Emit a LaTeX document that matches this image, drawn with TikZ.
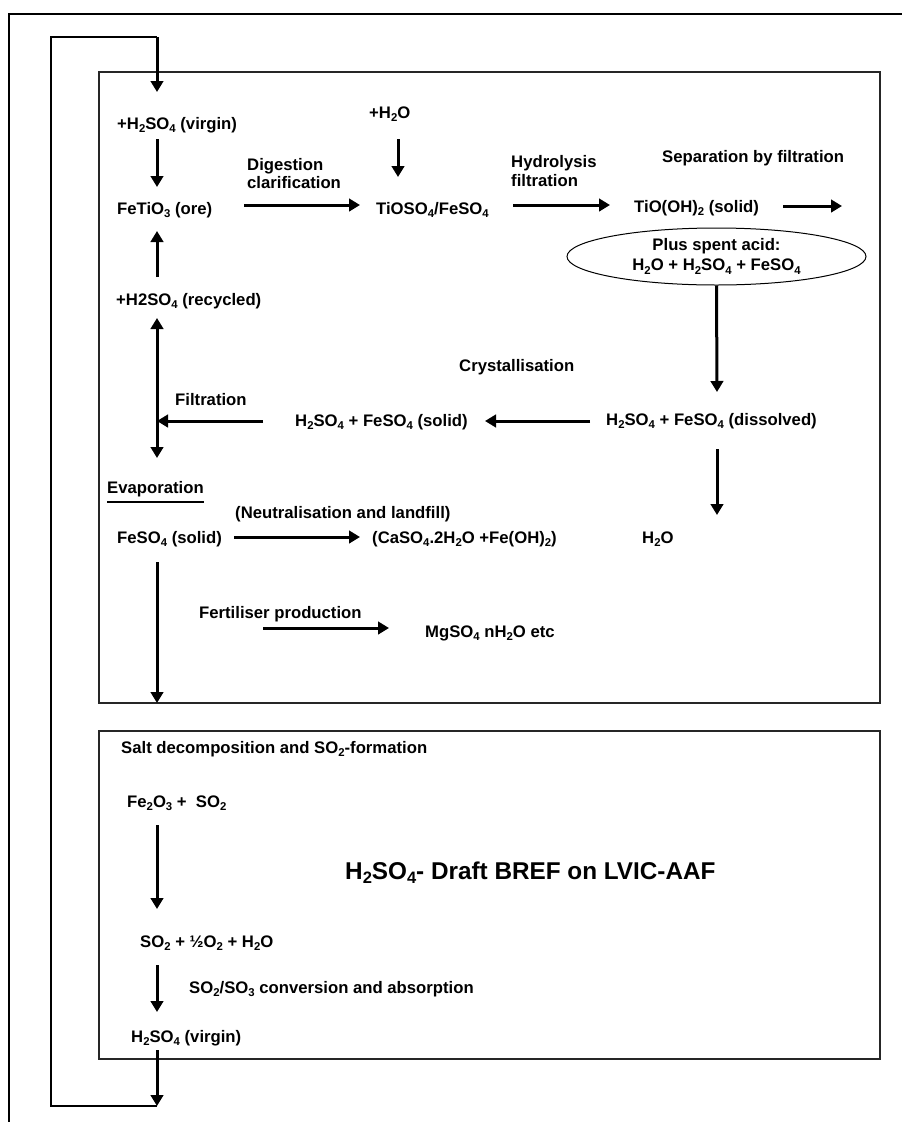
\documentclass[tikz,border=0pt]{standalone}
\usepackage{fontspec}
\usepackage{graphicx}
\setmainfont{Liberation Sans}
\usetikzlibrary{arrows.meta,shapes.geometric}
\newcommand\sbs[1]{\raisebox{-0.2em}{\scalebox{0.68}{#1}}}
\tikzset{
  txt/.style={font=\fontsize{16.7}{19}\selectfont\bfseries, anchor=base west, inner sep=0pt},
  flow/.style={line width=3pt, -{Triangle[length=11pt,width=12.5pt]}},
  dflow/.style={line width=3pt, {Triangle[length=11pt,width=12.5pt]}-{Triangle[length=11pt,width=12.5pt]}},
  loopline/.style={line width=2.8pt},
  boxline/.style={line width=1.2pt, draw=black!85},
}
\begin{document}
\begin{tikzpicture}[x=1pt,y=-1pt]
\useasboundingbox[fill=white] (0,0) rectangle (902,1122);
% outer frame
\draw[line width=2.2pt] (9,1122) -- (9,14) -- (902,14);
% boxes
\draw[boxline] (99,72) rectangle (880,703);
\draw[boxline] (99,731) rectangle (880,1059);
% texts
\node[txt] (vir1) at (117,129) {+H\sbs{2}SO\sbs{4} (virgin)};
\node[txt] (ore) at (117,214) {FeTiO\sbs{3} (ore)};
\node[txt] (rec) at (116,305) {+H2SO\sbs{4} (recycled)};
\node[txt] (h2o) at (369,118) {+H\sbs{2}O};
\node[txt] (dig1) at (247,170) {Digestion};
\node[txt] (dig2) at (247,188) {clarification};
\node[txt] (tio) at (376,214) {TiOSO\sbs{4}/FeSO\sbs{4}};
\node[txt] (hyd1) at (511,167) {Hydrolysis};
\node[txt] (hyd2) at (511,186) {filtration};
\node[txt] (sep) at (662,162) {Separation by filtration};
\node[txt] (tioh) at (634,212) {TiO(OH)\sbs{2} (solid)};
\node[draw, line width=1pt, ellipse, minimum width=299pt, minimum height=57pt, inner sep=0pt,
      font=\fontsize{16.7}{20}\selectfont\bfseries, align=center] (spent) at (716.5,256.5)
      {Plus spent acid:\\H\sbs{2}O + H\sbs{2}SO\sbs{4} + FeSO\sbs{4}};
\node[txt] (cry) at (459,371) {Crystallisation};
\node[txt] (dis) at (606,425) {H\sbs{2}SO\sbs{4} + FeSO\sbs{4} (dissolved)};
\node[txt] (sol) at (295,426) {H\sbs{2}SO\sbs{4} + FeSO\sbs{4} (solid)};
\node[txt] (fil) at (175,405) {Filtration};
\node[txt] (evap) at (107,493) {Evaporation};
\draw[line width=1.8pt] ([yshift=-9pt]evap.base west) -- ([yshift=-9pt]evap.base east);
\node[txt] (neu) at (235,518) {(Neutralisation and landfill)};
\node[txt] (feso) at (117,543) {FeSO\sbs{4} (solid)};
\node[txt] (caso) at (372,543) {(CaSO\sbs{4}.2H\sbs{2}O +Fe(OH)\sbs{2})};
\node[txt] (wat) at (642,543) {H\sbs{2}O};
\node[txt] (fert) at (199,618) {Fertiliser production};
\node[txt] (mg) at (425,637) {MgSO\sbs{4} nH\sbs{2}O etc};
\node[txt] (salt) at (121,753) {Salt decomposition and SO\sbs{2}-formation};
\node[txt] (fe2o3) at (127,807) {Fe\sbs{2}O\sbs{3} +\ \ SO\sbs{2}};
\node[txt, font=\fontsize{24.3}{28}\selectfont\bfseries] (title) at (345,879) {H\sbs{2}SO\sbs{4}- Draft BREF on LVIC-AAF};
\node[txt] (so2) at (140,947) {SO\sbs{2} + ½O\sbs{2} + H\sbs{2}O};
\node[txt] (conv) at (189,993) {SO\sbs{2}/SO\sbs{3} conversion and absorption};
\node[txt] (vir2) at (131,1042) {H\sbs{2}SO\sbs{4} (virgin)};
% arrow end points
\coordinate (a1s) at (157,139); \coordinate (a1e) at (157,187);
\coordinate (a2s) at (157,277); \coordinate (a2e) at (157,231);
\coordinate (a3s) at (398,139); \coordinate (a3e) at (398,177);
\coordinate (a4s) at (244,205); \coordinate (a4e) at (360,205);
\coordinate (a5s) at (513,205); \coordinate (a5e) at (610,205);
\coordinate (a6s) at (783,206); \coordinate (a6e) at (842,206);
\coordinate (a7e) at (717,392);
\coordinate (a8s) at (590,421); \coordinate (a8e) at (485,421);
\coordinate (a9s) at (263,421); \coordinate (a9e) at (157,421);
\coordinate (a10s) at (157,318); \coordinate (a10e) at (157,458);
\coordinate (a11s) at (234,537); \coordinate (a11e) at (360,537);
\coordinate (a12s) at (717,449); \coordinate (a12e) at (717,515);
\coordinate (a13s) at (157,562); \coordinate (a13e) at (157,703);
\coordinate (a14s) at (263,628); \coordinate (a14e) at (389,628);
\coordinate (a15s) at (157,825); \coordinate (a15e) at (157,909);
\coordinate (a16s) at (157,965); \coordinate (a16e) at (157,1012);
\coordinate (a17s) at (157,1050); \coordinate (a17e) at (157,1106);
\coordinate (lp1) at (51,1106); \coordinate (lp2) at (51,37);
\coordinate (lp3) at (157,37); \coordinate (lp4) at (157,92);
% arrows
\draw[flow] (a1s) -- (a1e);
\draw[flow] (a2s) -- (a2e);
\draw[flow] (a3s) -- (a3e);
\draw[flow] (a4s) -- (a4e);
\draw[flow] (a5s) -- (a5e);
\draw[flow] (a6s) -- (a6e);
\draw[flow] (spent.south) -- (a7e);
\draw[flow] (a8s) -- (a8e);
\draw[flow] (a9s) -- (a9e);
\draw[dflow] (a10s) -- (a10e);
\draw[flow] (a11s) -- (a11e);
\draw[flow] (a12s) -- (a12e);
\draw[flow] (a13s) -- (a13e);
\draw[flow] (a14s) -- (a14e);
\draw[flow] (a15s) -- (a15e);
\draw[flow] (a16s) -- (a16e);
\draw[flow] (a17s) -- (a17e);
\draw[loopline, line join=miter] (a17e) -- (lp1) -- (lp2) -- (lp3);
\draw[flow] (lp3) -- (lp4);
\end{tikzpicture}
\end{document}
